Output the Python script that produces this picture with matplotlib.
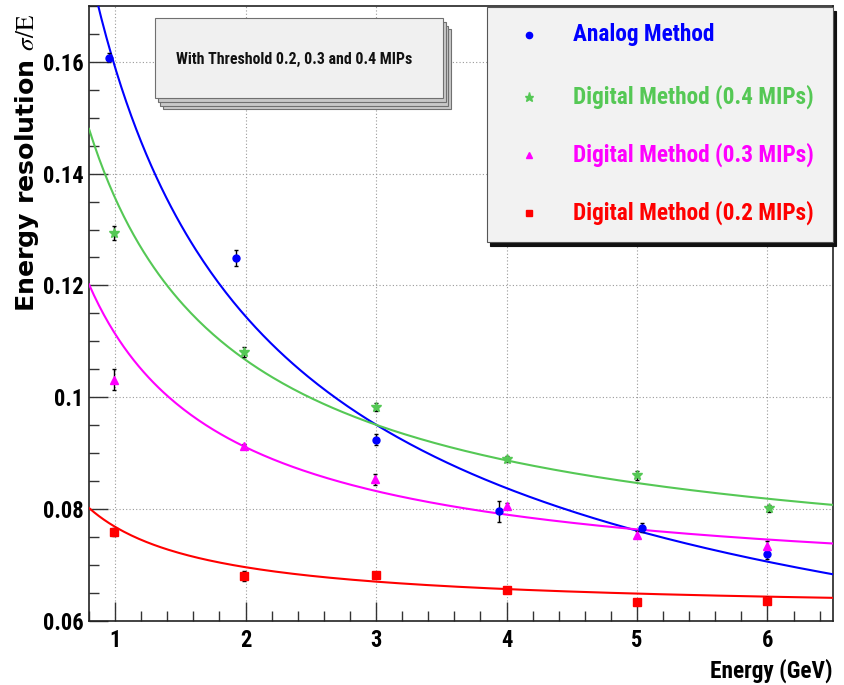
import matplotlib
matplotlib.use('Agg')
import matplotlib.pyplot as plt
from matplotlib.patches import Rectangle
from matplotlib.lines import Line2D
from matplotlib.ticker import MultipleLocator, FuncFormatter
from matplotlib import font_manager
from matplotlib.font_manager import FontProperties
import numpy as np
import os

# ---------------- data ----------------
energy_analog = [0.95, 1.93, 3.0, 3.94, 5.04, 6.0]
res_analog = [0.1607, 0.1249, 0.0924, 0.0796, 0.0766, 0.0720]
err_analog = [0.0008, 0.0015, 0.0010, 0.0019, 0.0008, 0.0010]

energy_d04 = [0.99, 1.99, 3.0, 4.0, 5.0, 6.01]
res_d04 = [0.1294, 0.1080, 0.0982, 0.0889, 0.0860, 0.0801]
err_d04 = [0.0012, 0.0009, 0.0007, 0.0005, 0.0008, 0.0006]

energy_d03 = [0.995, 1.985, 2.99, 4.0, 5.0, 6.0]
res_d03 = [0.1031, 0.0912, 0.0853, 0.0805, 0.0754, 0.0733]
err_d03 = [0.0019, 0.0005, 0.0010, 0.0006, 0.0006, 0.0010]

energy_d02 = [0.995, 1.985, 3.0, 4.0, 5.0, 6.0]
res_d02 = [0.0758, 0.0680, 0.0682, 0.0655, 0.0634, 0.0636]
err_d02 = [0.0007, 0.0009, 0.0006, 0.0005, 0.0005, 0.0006]

# fit: sigma/E = sqrt(a^2/E + b^2)
fit_a = [0.1561, 0.1185, 0.0906, 0.0460]
fit_b = [0.0303, 0.0660, 0.0647, 0.0615]

series_labels = ["Analog Method", "Digital Method (0.4 MIPs)",
                 "Digital Method (0.3 MIPs)", "Digital Method (0.2 MIPs)"]
x_ticks = [1, 2, 3, 4, 5, 6]
y_ticks = [0.06, 0.08, 0.1, 0.12, 0.14, 0.16]
note_text = "With Threshold 0.2, 0.3 and 0.4 MIPs"

# ---------------- fonts ----------------
plt.rcParams['mathtext.fontset'] = 'stix'
files = [f.fname for f in font_manager.fontManager.ttflist]
pref = ['LiberationSansNarrow-Bold.', 'RobotoCondensed-Bold.',
        'DejaVuSansCondensed-Bold.', 'OpenSans_Condensed-Bold.',
        'OpenSansCondensed-Bold.', 'LiberationSans-Bold.']
cond_file = None
for p in pref:
    for f in files:
        if os.path.basename(f).startswith(p):
            cond_file = f
            break
    if cond_file:
        break
if cond_file:
    FP = FontProperties(fname=cond_file)
else:
    FP = FontProperties(family='DejaVu Sans', weight='bold')

colors = ['#0000ff', '#55c855', '#ff00ff', '#ff0000']
markers = ['o', '*', '^', 's']
msizes = [5, 7, 5.5, 5.5]

W, H = 844, 685
fig = plt.figure(figsize=(W / 100, H / 100), dpi=100)
renderer = fig.canvas.get_renderer()


def size_for(s, target_px, fp=None, **kw):
    if fp is not None:
        fp = fp.copy()
        fp.set_size(10)
        t = fig.text(0, 0, s, fontproperties=fp)
    else:
        t = fig.text(0, 0, s, fontsize=10, **kw)
    w = t.get_window_extent(renderer).width
    t.remove()
    return 10 * target_px / w


def fp_size(sz):
    f = FP.copy()
    f.set_size(sz)
    return f


ax_l, ax_r, ax_t, ax_b = 89, 832.7, 6, 620.7
ax = fig.add_axes([ax_l / W, 1 - ax_b / H, (ax_r - ax_l) / W, (ax_b - ax_t) / H])

xs = [energy_analog, energy_d04, energy_d03, energy_d02]
ys = [res_analog, res_d04, res_d03, res_d02]
es = [err_analog, err_d04, err_d03, err_d02]

xf = np.linspace(0.8, 6.5, 300)
for i in range(4):
    yf = np.sqrt(fit_a[i] ** 2 / xf + fit_b[i] ** 2)
    ax.plot(xf, yf, color=colors[i], lw=1.5, zorder=3)
for i in range(4):
    ax.errorbar(xs[i], ys[i], yerr=es[i], fmt=markers[i], color=colors[i],
                ms=msizes[i], mec=colors[i], ecolor='black', elinewidth=1.0,
                capsize=1.5, capthick=1.0, zorder=4)

ax.set_xlim(0.8, 6.5)
ax.set_ylim(0.06, 0.17)
ax.set_xticks(x_ticks)
ax.set_yticks(y_ticks)
ax.xaxis.set_minor_locator(MultipleLocator(0.2))
ax.yaxis.set_minor_locator(MultipleLocator(0.005))
ax.yaxis.set_major_formatter(FuncFormatter(lambda v, p: f'{v:g}'))
ax.tick_params(which='both', direction='in', top=False, right=False,
               color='#333333', width=1.0)
ax.tick_params(which='major', length=14)
ax.tick_params(which='minor', length=7.5)
ax.tick_params(axis='y', pad=4)
ax.tick_params(axis='x', pad=6)
tick_fp = fp_size(size_for("0.16", 41, FP))
for lab in ax.get_xticklabels() + ax.get_yticklabels():
    lab.set_fontproperties(tick_fp)
ax.grid(True, which='major', color='#999999', linestyle=(0, (1, 2)), lw=0.8)
ax.set_axisbelow(True)
for s in ax.spines.values():
    s.set_linewidth(1.2)
    s.set_color('#222222')

ylab = r"Energy resolution $\sigma/\mathrm{E}$"
ysz = size_for(ylab, 300, None, fontweight='bold', family='DejaVu Sans')
ax.set_ylabel(ylab, fontsize=ysz, fontweight='bold', family='DejaVu Sans',
              va='center', ha='center')
ax.yaxis.set_label_coords(-0.084, 0.745)
ax.set_xlabel("Energy (GeV)", fontproperties=fp_size(size_for("Energy (GeV)", 122, FP)),
              ha='right', va='top')
ax.xaxis.set_label_coords(1.0, -0.062)


def fx(x):
    return x / W


def fy(y):
    return 1 - y / H


# ---------------- note box ----------------
bx0, by0, bx1, by1 = 155, 18, 443, 98
for k, (dx, dy) in enumerate([(7.5, 11), (5, 7.5), (2.5, 4)]):
    fig.add_artist(Rectangle((fx(bx0 + dx), fy(by1 + dy)), (bx1 - bx0) / W,
                             (by1 - by0) / H, transform=fig.transFigure,
                             facecolor='#c8c8c8', edgecolor='#707070', lw=0.8,
                             zorder=5))
fig.add_artist(Rectangle((fx(bx0), fy(by1)), (bx1 - bx0) / W, (by1 - by0) / H,
                         transform=fig.transFigure, facecolor='#f0f0f0',
                         edgecolor='#707070', lw=0.8, zorder=6))
fig.text(fx(294), fy(59), note_text, ha='center', va='center',
         fontproperties=fp_size(size_for(note_text, 237, FP)),
         color='#111111', zorder=7)

# ---------------- legend box ----------------
lx0, ly0, lx1, ly1 = 487, 7, 833, 242
fig.add_artist(Rectangle((fx(lx0 + 3), fy(ly1 + 4)), (lx1 - lx0) / W,
                         (ly1 - ly0) / H, transform=fig.transFigure,
                         facecolor='#111111', edgecolor='#111111', lw=0.8,
                         zorder=8))
fig.add_artist(Rectangle((fx(lx0), fy(ly1)), (lx1 - lx0) / W, (ly1 - ly0) / H,
                         transform=fig.transFigure, facecolor='#f2f2f2',
                         edgecolor='#555555', lw=0.8, zorder=9))
leg_fp = fp_size(size_for(series_labels[1], 241, FP))
rows = [35, 97, 155, 213]
for i in range(4):
    fig.add_artist(Line2D([fx(529)], [fy(rows[i])], transform=fig.transFigure,
                          marker=markers[i], color=colors[i], ms=msizes[i] - 0.5,
                          ls='none', zorder=10))
    fig.text(fx(573), fy(rows[i]), series_labels[i], ha='left', va='center',
             fontproperties=leg_fp, color=colors[i], zorder=10)

fig.savefig('out.png', dpi=100)
